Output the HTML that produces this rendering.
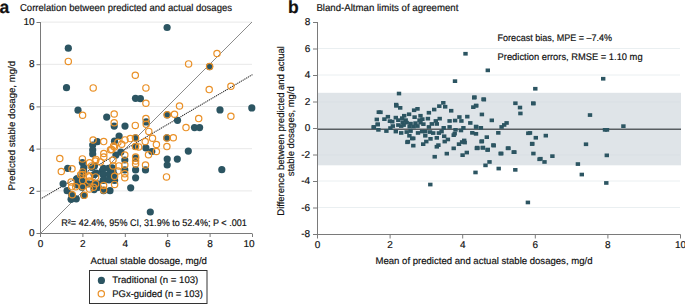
<!DOCTYPE html>
<html><head><meta charset="utf-8"><style>
html,body{margin:0;padding:0;background:#fff;}
svg{display:block;}
text{font-family:"Liberation Sans", sans-serif;fill:#111;stroke:#111;stroke-width:0.18px;}
</style></head><body>
<svg width="685" height="304" viewBox="0 0 685 304" text-rendering="geometricPrecision">
<line x1="41" y1="190.9" x2="252" y2="190.9" stroke="#e8e8e8" stroke-width="1"/>
<line x1="41" y1="148.7" x2="252" y2="148.7" stroke="#e8e8e8" stroke-width="1"/>
<line x1="41" y1="106.5" x2="252" y2="106.5" stroke="#e8e8e8" stroke-width="1"/>
<line x1="41" y1="64.3" x2="252" y2="64.3" stroke="#e8e8e8" stroke-width="1"/>
<line x1="41" y1="22.1" x2="252" y2="22.1" stroke="#e8e8e8" stroke-width="1"/>
<line x1="40.5" y1="233.5" x2="252" y2="22" stroke="#6e6e6e" stroke-width="0.8"/>
<line x1="40.5" y1="199" x2="252" y2="74.9" stroke="#333" stroke-width="1.15" stroke-dasharray="0.3 1.76" stroke-linecap="round"/>
<circle cx="68.3" cy="48.2" r="3.6" fill="#2c5562"/>
<circle cx="167.1" cy="27.5" r="3.6" fill="#2c5562"/>
<circle cx="209.6" cy="66.6" r="3.6" fill="#2c5562"/>
<circle cx="66.5" cy="87.7" r="3.6" fill="#2c5562"/>
<circle cx="78.0" cy="110.2" r="3.6" fill="#2c5562"/>
<circle cx="106.7" cy="117.1" r="3.6" fill="#2c5562"/>
<circle cx="135.5" cy="98.3" r="3.6" fill="#2c5562"/>
<circle cx="140.4" cy="98.7" r="3.6" fill="#2c5562"/>
<circle cx="167.2" cy="114.8" r="3.6" fill="#2c5562"/>
<circle cx="177.5" cy="120.3" r="3.6" fill="#2c5562"/>
<circle cx="220.0" cy="109.9" r="3.6" fill="#2c5562"/>
<circle cx="251.8" cy="107.9" r="3.6" fill="#2c5562"/>
<circle cx="146.2" cy="121.9" r="3.6" fill="#2c5562"/>
<circle cx="114.2" cy="126.1" r="3.6" fill="#2c5562"/>
<circle cx="125.0" cy="126.1" r="3.6" fill="#2c5562"/>
<circle cx="194.5" cy="127.6" r="3.6" fill="#2c5562"/>
<circle cx="199.6" cy="127.6" r="3.6" fill="#2c5562"/>
<circle cx="119.1" cy="136.0" r="3.6" fill="#2c5562"/>
<circle cx="114.5" cy="141.2" r="3.6" fill="#2c5562"/>
<circle cx="135.5" cy="137.9" r="3.6" fill="#2c5562"/>
<circle cx="166.9" cy="137.9" r="3.6" fill="#2c5562"/>
<circle cx="145.9" cy="147.9" r="3.6" fill="#2c5562"/>
<circle cx="135.5" cy="146.5" r="3.6" fill="#2c5562"/>
<circle cx="97.3" cy="141.7" r="3.6" fill="#2c5562"/>
<circle cx="92.7" cy="145.1" r="3.6" fill="#2c5562"/>
<circle cx="92.7" cy="150.0" r="3.6" fill="#2c5562"/>
<circle cx="188.3" cy="151.1" r="3.6" fill="#2c5562"/>
<circle cx="120.8" cy="152.1" r="3.6" fill="#2c5562"/>
<circle cx="115.9" cy="155.1" r="3.6" fill="#2c5562"/>
<circle cx="92.7" cy="154.0" r="3.6" fill="#2c5562"/>
<circle cx="67.7" cy="168.3" r="3.6" fill="#2c5562"/>
<circle cx="82.4" cy="162.6" r="3.6" fill="#2c5562"/>
<circle cx="83.6" cy="170.9" r="3.6" fill="#2c5562"/>
<circle cx="94.4" cy="165.9" r="3.6" fill="#2c5562"/>
<circle cx="76.7" cy="178.8" r="3.6" fill="#2c5562"/>
<circle cx="102.3" cy="170.9" r="3.6" fill="#2c5562"/>
<circle cx="112.2" cy="167.9" r="3.6" fill="#2c5562"/>
<circle cx="151.8" cy="151.5" r="3.6" fill="#2c5562"/>
<circle cx="135.6" cy="158.1" r="3.6" fill="#2c5562"/>
<circle cx="135.6" cy="169.9" r="3.6" fill="#2c5562"/>
<circle cx="135.6" cy="177.8" r="3.6" fill="#2c5562"/>
<circle cx="145.5" cy="169.9" r="3.6" fill="#2c5562"/>
<circle cx="124.8" cy="160.0" r="3.6" fill="#2c5562"/>
<circle cx="124.8" cy="169.9" r="3.6" fill="#2c5562"/>
<circle cx="113.0" cy="170.9" r="3.6" fill="#2c5562"/>
<circle cx="167.2" cy="159.0" r="3.6" fill="#2c5562"/>
<circle cx="167.2" cy="165.0" r="3.6" fill="#2c5562"/>
<circle cx="177.3" cy="159.1" r="3.6" fill="#2c5562"/>
<circle cx="221.8" cy="169.7" r="3.6" fill="#2c5562"/>
<circle cx="103.1" cy="174.6" r="3.6" fill="#2c5562"/>
<circle cx="103.1" cy="180.4" r="3.6" fill="#2c5562"/>
<circle cx="97.3" cy="183.8" r="3.6" fill="#2c5562"/>
<circle cx="103.6" cy="190.7" r="3.6" fill="#2c5562"/>
<circle cx="110.0" cy="190.7" r="3.6" fill="#2c5562"/>
<circle cx="114.6" cy="180.4" r="3.6" fill="#2c5562"/>
<circle cx="114.0" cy="174.6" r="3.6" fill="#2c5562"/>
<circle cx="130.7" cy="187.8" r="3.6" fill="#2c5562"/>
<circle cx="63.1" cy="183.8" r="3.6" fill="#2c5562"/>
<circle cx="67.1" cy="190.7" r="3.6" fill="#2c5562"/>
<circle cx="71.7" cy="194.7" r="3.6" fill="#2c5562"/>
<circle cx="71.1" cy="199.3" r="3.6" fill="#2c5562"/>
<circle cx="76.3" cy="198.8" r="3.6" fill="#2c5562"/>
<circle cx="76.9" cy="179.2" r="3.6" fill="#2c5562"/>
<circle cx="76.9" cy="185.0" r="3.6" fill="#2c5562"/>
<circle cx="82.0" cy="174.6" r="3.6" fill="#2c5562"/>
<circle cx="82.0" cy="180.9" r="3.6" fill="#2c5562"/>
<circle cx="82.0" cy="187.3" r="3.6" fill="#2c5562"/>
<circle cx="83.8" cy="195.3" r="3.6" fill="#2c5562"/>
<circle cx="88.4" cy="183.8" r="3.6" fill="#2c5562"/>
<circle cx="93.0" cy="183.8" r="3.6" fill="#2c5562"/>
<circle cx="94.1" cy="174.6" r="3.6" fill="#2c5562"/>
<circle cx="98.2" cy="187.3" r="3.6" fill="#2c5562"/>
<circle cx="94.1" cy="189.6" r="3.6" fill="#2c5562"/>
<circle cx="150.3" cy="212.0" r="3.6" fill="#2c5562"/>
<circle cx="103.5" cy="168.3" r="3.6" fill="#2c5562"/>
<circle cx="108.5" cy="168.3" r="3.6" fill="#2c5562"/>
<circle cx="109.0" cy="174.3" r="3.6" fill="#2c5562"/>
<circle cx="104.0" cy="179.8" r="3.6" fill="#2c5562"/>
<circle cx="109.0" cy="179.8" r="3.6" fill="#2c5562"/>
<circle cx="92.0" cy="167.3" r="3.6" fill="#2c5562"/>
<circle cx="83.8" cy="167.6" r="3.6" fill="#2c5562"/>
<circle cx="96.2" cy="173.0" r="3.6" fill="#2c5562"/>
<circle cx="68.3" cy="61.4" r="3.15" fill="none" stroke="#ea9128" stroke-width="1.2"/>
<circle cx="135.3" cy="75.2" r="3.15" fill="none" stroke="#ea9128" stroke-width="1.2"/>
<circle cx="217.0" cy="53.5" r="3.15" fill="none" stroke="#ea9128" stroke-width="1.2"/>
<circle cx="188.6" cy="63.9" r="3.15" fill="none" stroke="#ea9128" stroke-width="1.2"/>
<circle cx="209.6" cy="66.6" r="3.15" fill="none" stroke="#ea9128" stroke-width="1.2"/>
<circle cx="230.9" cy="86.2" r="3.15" fill="none" stroke="#ea9128" stroke-width="1.2"/>
<circle cx="209.2" cy="89.6" r="3.15" fill="none" stroke="#ea9128" stroke-width="1.2"/>
<circle cx="93.2" cy="87.9" r="3.15" fill="none" stroke="#ea9128" stroke-width="1.2"/>
<circle cx="82.6" cy="115.2" r="3.15" fill="none" stroke="#ea9128" stroke-width="1.2"/>
<circle cx="114.2" cy="114.0" r="3.15" fill="none" stroke="#ea9128" stroke-width="1.2"/>
<circle cx="145.9" cy="87.9" r="3.15" fill="none" stroke="#ea9128" stroke-width="1.2"/>
<circle cx="145.9" cy="103.3" r="3.15" fill="none" stroke="#ea9128" stroke-width="1.2"/>
<circle cx="179.5" cy="106.0" r="3.15" fill="none" stroke="#ea9128" stroke-width="1.2"/>
<circle cx="167.2" cy="114.8" r="3.15" fill="none" stroke="#ea9128" stroke-width="1.2"/>
<circle cx="174.5" cy="114.3" r="3.15" fill="none" stroke="#ea9128" stroke-width="1.2"/>
<circle cx="198.7" cy="118.6" r="3.15" fill="none" stroke="#ea9128" stroke-width="1.2"/>
<circle cx="230.9" cy="116.2" r="3.15" fill="none" stroke="#ea9128" stroke-width="1.2"/>
<circle cx="145.9" cy="118.6" r="3.15" fill="none" stroke="#ea9128" stroke-width="1.2"/>
<circle cx="146.2" cy="124.2" r="3.15" fill="none" stroke="#ea9128" stroke-width="1.2"/>
<circle cx="114.2" cy="122.8" r="3.15" fill="none" stroke="#ea9128" stroke-width="1.2"/>
<circle cx="135.3" cy="125.4" r="3.15" fill="none" stroke="#ea9128" stroke-width="1.2"/>
<circle cx="186.0" cy="127.6" r="3.15" fill="none" stroke="#ea9128" stroke-width="1.2"/>
<circle cx="148.8" cy="131.4" r="3.15" fill="none" stroke="#ea9128" stroke-width="1.2"/>
<circle cx="103.7" cy="141.6" r="3.15" fill="none" stroke="#ea9128" stroke-width="1.2"/>
<circle cx="125.0" cy="139.9" r="3.15" fill="none" stroke="#ea9128" stroke-width="1.2"/>
<circle cx="130.3" cy="138.6" r="3.15" fill="none" stroke="#ea9128" stroke-width="1.2"/>
<circle cx="135.5" cy="137.9" r="3.15" fill="none" stroke="#ea9128" stroke-width="1.2"/>
<circle cx="152.5" cy="138.3" r="3.15" fill="none" stroke="#ea9128" stroke-width="1.2"/>
<circle cx="145.2" cy="141.6" r="3.15" fill="none" stroke="#ea9128" stroke-width="1.2"/>
<circle cx="156.4" cy="144.5" r="3.15" fill="none" stroke="#ea9128" stroke-width="1.2"/>
<circle cx="166.9" cy="137.9" r="3.15" fill="none" stroke="#ea9128" stroke-width="1.2"/>
<circle cx="173.3" cy="137.7" r="3.15" fill="none" stroke="#ea9128" stroke-width="1.2"/>
<circle cx="166.9" cy="146.6" r="3.15" fill="none" stroke="#ea9128" stroke-width="1.2"/>
<circle cx="138.7" cy="146.9" r="3.15" fill="none" stroke="#ea9128" stroke-width="1.2"/>
<circle cx="135.5" cy="146.5" r="3.15" fill="none" stroke="#ea9128" stroke-width="1.2"/>
<circle cx="121.7" cy="144.3" r="3.15" fill="none" stroke="#ea9128" stroke-width="1.2"/>
<circle cx="114.5" cy="147.1" r="3.15" fill="none" stroke="#ea9128" stroke-width="1.2"/>
<circle cx="93.1" cy="140.0" r="3.15" fill="none" stroke="#ea9128" stroke-width="1.2"/>
<circle cx="113.6" cy="146.1" r="3.15" fill="none" stroke="#ea9128" stroke-width="1.2"/>
<circle cx="110.5" cy="149.8" r="3.15" fill="none" stroke="#ea9128" stroke-width="1.2"/>
<circle cx="117.9" cy="142.3" r="3.15" fill="none" stroke="#ea9128" stroke-width="1.2"/>
<circle cx="103.8" cy="153.5" r="3.15" fill="none" stroke="#ea9128" stroke-width="1.2"/>
<circle cx="103.8" cy="157.0" r="3.15" fill="none" stroke="#ea9128" stroke-width="1.2"/>
<circle cx="111.7" cy="149.5" r="3.15" fill="none" stroke="#ea9128" stroke-width="1.2"/>
<circle cx="95.9" cy="159.4" r="3.15" fill="none" stroke="#ea9128" stroke-width="1.2"/>
<circle cx="59.8" cy="158.5" r="3.15" fill="none" stroke="#ea9128" stroke-width="1.2"/>
<circle cx="72.0" cy="168.7" r="3.15" fill="none" stroke="#ea9128" stroke-width="1.2"/>
<circle cx="61.3" cy="171.5" r="3.15" fill="none" stroke="#ea9128" stroke-width="1.2"/>
<circle cx="82.4" cy="158.9" r="3.15" fill="none" stroke="#ea9128" stroke-width="1.2"/>
<circle cx="89.5" cy="162.8" r="3.15" fill="none" stroke="#ea9128" stroke-width="1.2"/>
<circle cx="95.4" cy="161.0" r="3.15" fill="none" stroke="#ea9128" stroke-width="1.2"/>
<circle cx="91.5" cy="165.9" r="3.15" fill="none" stroke="#ea9128" stroke-width="1.2"/>
<circle cx="100.4" cy="162.0" r="3.15" fill="none" stroke="#ea9128" stroke-width="1.2"/>
<circle cx="82.6" cy="171.9" r="3.15" fill="none" stroke="#ea9128" stroke-width="1.2"/>
<circle cx="80.6" cy="174.8" r="3.15" fill="none" stroke="#ea9128" stroke-width="1.2"/>
<circle cx="89.5" cy="176.8" r="3.15" fill="none" stroke="#ea9128" stroke-width="1.2"/>
<circle cx="156.4" cy="151.5" r="3.15" fill="none" stroke="#ea9128" stroke-width="1.2"/>
<circle cx="148.5" cy="154.8" r="3.15" fill="none" stroke="#ea9128" stroke-width="1.2"/>
<circle cx="135.6" cy="157.1" r="3.15" fill="none" stroke="#ea9128" stroke-width="1.2"/>
<circle cx="135.6" cy="161.0" r="3.15" fill="none" stroke="#ea9128" stroke-width="1.2"/>
<circle cx="135.6" cy="164.0" r="3.15" fill="none" stroke="#ea9128" stroke-width="1.2"/>
<circle cx="145.5" cy="165.0" r="3.15" fill="none" stroke="#ea9128" stroke-width="1.2"/>
<circle cx="124.8" cy="155.1" r="3.15" fill="none" stroke="#ea9128" stroke-width="1.2"/>
<circle cx="124.8" cy="165.0" r="3.15" fill="none" stroke="#ea9128" stroke-width="1.2"/>
<circle cx="124.8" cy="173.8" r="3.15" fill="none" stroke="#ea9128" stroke-width="1.2"/>
<circle cx="124.8" cy="177.8" r="3.15" fill="none" stroke="#ea9128" stroke-width="1.2"/>
<circle cx="113.0" cy="160.0" r="3.15" fill="none" stroke="#ea9128" stroke-width="1.2"/>
<circle cx="113.0" cy="165.9" r="3.15" fill="none" stroke="#ea9128" stroke-width="1.2"/>
<circle cx="118.9" cy="165.9" r="3.15" fill="none" stroke="#ea9128" stroke-width="1.2"/>
<circle cx="117.9" cy="170.9" r="3.15" fill="none" stroke="#ea9128" stroke-width="1.2"/>
<circle cx="166.5" cy="176.9" r="3.15" fill="none" stroke="#ea9128" stroke-width="1.2"/>
<circle cx="103.6" cy="185.5" r="3.15" fill="none" stroke="#ea9128" stroke-width="1.2"/>
<circle cx="103.6" cy="190.1" r="3.15" fill="none" stroke="#ea9128" stroke-width="1.2"/>
<circle cx="114.6" cy="176.3" r="3.15" fill="none" stroke="#ea9128" stroke-width="1.2"/>
<circle cx="114.6" cy="184.4" r="3.15" fill="none" stroke="#ea9128" stroke-width="1.2"/>
<circle cx="95.6" cy="176.9" r="3.15" fill="none" stroke="#ea9128" stroke-width="1.2"/>
<circle cx="95.6" cy="183.8" r="3.15" fill="none" stroke="#ea9128" stroke-width="1.2"/>
<circle cx="71.1" cy="182.1" r="3.15" fill="none" stroke="#ea9128" stroke-width="1.2"/>
<circle cx="71.7" cy="186.7" r="3.15" fill="none" stroke="#ea9128" stroke-width="1.2"/>
<circle cx="72.3" cy="194.7" r="3.15" fill="none" stroke="#ea9128" stroke-width="1.2"/>
<circle cx="75.7" cy="186.7" r="3.15" fill="none" stroke="#ea9128" stroke-width="1.2"/>
<circle cx="82.6" cy="174.6" r="3.15" fill="none" stroke="#ea9128" stroke-width="1.2"/>
<circle cx="82.6" cy="180.4" r="3.15" fill="none" stroke="#ea9128" stroke-width="1.2"/>
<circle cx="82.6" cy="186.7" r="3.15" fill="none" stroke="#ea9128" stroke-width="1.2"/>
<circle cx="84.3" cy="195.3" r="3.15" fill="none" stroke="#ea9128" stroke-width="1.2"/>
<circle cx="89.0" cy="175.8" r="3.15" fill="none" stroke="#ea9128" stroke-width="1.2"/>
<circle cx="89.5" cy="180.9" r="3.15" fill="none" stroke="#ea9128" stroke-width="1.2"/>
<circle cx="89.5" cy="189.0" r="3.15" fill="none" stroke="#ea9128" stroke-width="1.2"/>
<circle cx="93.5" cy="187.3" r="3.15" fill="none" stroke="#ea9128" stroke-width="1.2"/>
<line x1="40.5" y1="22" x2="40.5" y2="237" stroke="#7a7a7a" stroke-width="1"/>
<line x1="36.5" y1="233.5" x2="252" y2="233.5" stroke="#7a7a7a" stroke-width="1"/>
<line x1="36.5" y1="191.3" x2="40.5" y2="191.3" stroke="#7a7a7a" stroke-width="1"/>
<line x1="36.5" y1="149.1" x2="40.5" y2="149.1" stroke="#7a7a7a" stroke-width="1"/>
<line x1="36.5" y1="106.9" x2="40.5" y2="106.9" stroke="#7a7a7a" stroke-width="1"/>
<line x1="36.5" y1="64.7" x2="40.5" y2="64.7" stroke="#7a7a7a" stroke-width="1"/>
<line x1="36.5" y1="22.5" x2="40.5" y2="22.5" stroke="#7a7a7a" stroke-width="1"/>
<line x1="82.9" y1="233.5" x2="82.9" y2="237" stroke="#7a7a7a" stroke-width="1"/>
<line x1="125.3" y1="233.5" x2="125.3" y2="237" stroke="#7a7a7a" stroke-width="1"/>
<line x1="167.7" y1="233.5" x2="167.7" y2="237" stroke="#7a7a7a" stroke-width="1"/>
<line x1="210.1" y1="233.5" x2="210.1" y2="237" stroke="#7a7a7a" stroke-width="1"/>
<line x1="252.5" y1="233.5" x2="252.5" y2="237" stroke="#7a7a7a" stroke-width="1"/>
<text x="34.6" y="236.1" font-size="10" text-anchor="end">0</text>
<text x="34.6" y="193.9" font-size="10" text-anchor="end">2</text>
<text x="34.6" y="151.7" font-size="10" text-anchor="end">4</text>
<text x="34.6" y="109.5" font-size="10" text-anchor="end">6</text>
<text x="34.6" y="67.3" font-size="10" text-anchor="end">8</text>
<text x="34.6" y="25.1" font-size="10" text-anchor="end">10</text>
<text x="40.5" y="247.3" font-size="10" text-anchor="middle">0</text>
<text x="82.9" y="247.3" font-size="10" text-anchor="middle">2</text>
<text x="125.3" y="247.3" font-size="10" text-anchor="middle">4</text>
<text x="167.7" y="247.3" font-size="10" text-anchor="middle">6</text>
<text x="210.1" y="247.3" font-size="10" text-anchor="middle">8</text>
<text x="249.1" y="247.3" font-size="10" text-anchor="middle">10</text>
<rect x="318" y="92.8" width="363" height="72.5" fill="#dfe4e8"/>
<line x1="318" y1="48.5" x2="680" y2="48.5" stroke="#eaeff1" stroke-width="1"/>
<line x1="318" y1="75.0" x2="680" y2="75.0" stroke="#eaeff1" stroke-width="1"/>
<line x1="318" y1="181.0" x2="680" y2="181.0" stroke="#eaeff1" stroke-width="1"/>
<line x1="318" y1="207.5" x2="680" y2="207.5" stroke="#eaeff1" stroke-width="1"/>
<line x1="318" y1="102.0" x2="680" y2="102.0" stroke="#d6dde2" stroke-width="1" opacity="0.5"/>
<line x1="318" y1="155.0" x2="680" y2="155.0" stroke="#d6dde2" stroke-width="1" opacity="0.5"/>
<line x1="318" y1="129.2" x2="681" y2="129.2" stroke="#595e62" stroke-width="1.4"/>
<rect x="396.8" y="91.7" width="4.4" height="3.7" fill="#2c5562"/>
<rect x="394.0" y="102.8" width="4.4" height="3.7" fill="#2c5562"/>
<rect x="376.6" y="110.3" width="4.4" height="3.7" fill="#2c5562"/>
<rect x="374.6" y="117.6" width="4.4" height="3.7" fill="#2c5562"/>
<rect x="371.7" y="125.1" width="4.4" height="3.7" fill="#2c5562"/>
<rect x="375.6" y="122.7" width="4.4" height="3.7" fill="#2c5562"/>
<rect x="376.2" y="128.0" width="4.4" height="3.7" fill="#2c5562"/>
<rect x="407.2" y="133.9" width="4.4" height="3.7" fill="#2c5562"/>
<rect x="411.1" y="136.5" width="4.4" height="3.7" fill="#2c5562"/>
<rect x="405.2" y="140.4" width="4.4" height="3.7" fill="#2c5562"/>
<rect x="411.1" y="143.8" width="4.4" height="3.7" fill="#2c5562"/>
<rect x="472.0" y="95.9" width="4.4" height="3.7" fill="#2c5562"/>
<rect x="441.1" y="101.0" width="4.4" height="3.7" fill="#2c5562"/>
<rect x="437.1" y="104.3" width="4.4" height="3.7" fill="#2c5562"/>
<rect x="443.0" y="104.9" width="4.4" height="3.7" fill="#2c5562"/>
<rect x="432.0" y="107.7" width="4.4" height="3.7" fill="#2c5562"/>
<rect x="449.0" y="108.9" width="4.4" height="3.7" fill="#2c5562"/>
<rect x="426.7" y="110.9" width="4.4" height="3.7" fill="#2c5562"/>
<rect x="425.7" y="116.8" width="4.4" height="3.7" fill="#2c5562"/>
<rect x="437.5" y="116.8" width="4.4" height="3.7" fill="#2c5562"/>
<rect x="433.6" y="119.1" width="4.4" height="3.7" fill="#2c5562"/>
<rect x="429.6" y="122.1" width="4.4" height="3.7" fill="#2c5562"/>
<rect x="434.6" y="122.1" width="4.4" height="3.7" fill="#2c5562"/>
<rect x="447.4" y="119.1" width="4.4" height="3.7" fill="#2c5562"/>
<rect x="452.9" y="118.7" width="4.4" height="3.7" fill="#2c5562"/>
<rect x="457.2" y="115.2" width="4.4" height="3.7" fill="#2c5562"/>
<rect x="459.2" y="119.1" width="4.4" height="3.7" fill="#2c5562"/>
<rect x="465.1" y="114.8" width="4.4" height="3.7" fill="#2c5562"/>
<rect x="468.1" y="121.1" width="4.4" height="3.7" fill="#2c5562"/>
<rect x="471.1" y="105.3" width="4.4" height="3.7" fill="#2c5562"/>
<rect x="474.0" y="103.8" width="4.4" height="3.7" fill="#2c5562"/>
<rect x="426.7" y="125.1" width="4.4" height="3.7" fill="#2c5562"/>
<rect x="441.5" y="126.0" width="4.4" height="3.7" fill="#2c5562"/>
<rect x="447.4" y="125.1" width="4.4" height="3.7" fill="#2c5562"/>
<rect x="453.3" y="128.0" width="4.4" height="3.7" fill="#2c5562"/>
<rect x="461.2" y="126.0" width="4.4" height="3.7" fill="#2c5562"/>
<rect x="474.0" y="125.1" width="4.4" height="3.7" fill="#2c5562"/>
<rect x="470.1" y="131.0" width="4.4" height="3.7" fill="#2c5562"/>
<rect x="475.0" y="145.8" width="4.4" height="3.7" fill="#2c5562"/>
<rect x="481.7" y="97.8" width="4.4" height="3.7" fill="#2c5562"/>
<rect x="473.8" y="103.8" width="4.4" height="3.7" fill="#2c5562"/>
<rect x="479.7" y="112.6" width="4.4" height="3.7" fill="#2c5562"/>
<rect x="489.6" y="118.5" width="4.4" height="3.7" fill="#2c5562"/>
<rect x="473.8" y="124.7" width="4.4" height="3.7" fill="#2c5562"/>
<rect x="478.7" y="126.0" width="4.4" height="3.7" fill="#2c5562"/>
<rect x="499.4" y="125.1" width="4.4" height="3.7" fill="#2c5562"/>
<rect x="502.0" y="123.1" width="4.4" height="3.7" fill="#2c5562"/>
<rect x="504.4" y="121.1" width="4.4" height="3.7" fill="#2c5562"/>
<rect x="496.1" y="131.0" width="4.4" height="3.7" fill="#2c5562"/>
<rect x="513.2" y="101.4" width="4.4" height="3.7" fill="#2c5562"/>
<rect x="517.8" y="105.7" width="4.4" height="3.7" fill="#2c5562"/>
<rect x="518.2" y="111.6" width="4.4" height="3.7" fill="#2c5562"/>
<rect x="531.0" y="101.4" width="4.4" height="3.7" fill="#2c5562"/>
<rect x="484.6" y="135.3" width="4.4" height="3.7" fill="#2c5562"/>
<rect x="479.7" y="139.3" width="4.4" height="3.7" fill="#2c5562"/>
<rect x="473.8" y="132.0" width="4.4" height="3.7" fill="#2c5562"/>
<rect x="526.1" y="131.4" width="4.4" height="3.7" fill="#2c5562"/>
<rect x="491.5" y="143.8" width="4.4" height="3.7" fill="#2c5562"/>
<rect x="480.7" y="145.8" width="4.4" height="3.7" fill="#2c5562"/>
<rect x="475.2" y="146.4" width="4.4" height="3.7" fill="#2c5562"/>
<rect x="485.6" y="147.7" width="4.4" height="3.7" fill="#2c5562"/>
<rect x="506.3" y="146.4" width="4.4" height="3.7" fill="#2c5562"/>
<rect x="512.2" y="150.3" width="4.4" height="3.7" fill="#2c5562"/>
<rect x="498.4" y="151.7" width="4.4" height="3.7" fill="#2c5562"/>
<rect x="530.0" y="141.8" width="4.4" height="3.7" fill="#2c5562"/>
<rect x="533.1" y="86.9" width="4.4" height="3.7" fill="#2c5562"/>
<rect x="531.2" y="101.7" width="4.4" height="3.7" fill="#2c5562"/>
<rect x="587.8" y="113.2" width="4.4" height="3.7" fill="#2c5562"/>
<rect x="527.8" y="131.1" width="4.4" height="3.7" fill="#2c5562"/>
<rect x="533.6" y="135.9" width="4.4" height="3.7" fill="#2c5562"/>
<rect x="543.6" y="133.8" width="4.4" height="3.7" fill="#2c5562"/>
<rect x="529.9" y="142.2" width="4.4" height="3.7" fill="#2c5562"/>
<rect x="583.8" y="142.4" width="4.4" height="3.7" fill="#2c5562"/>
<rect x="602.8" y="128.0" width="4.4" height="3.7" fill="#2c5562"/>
<rect x="604.8" y="128.0" width="4.4" height="3.7" fill="#2c5562"/>
<rect x="531.2" y="151.7" width="4.4" height="3.7" fill="#2c5562"/>
<rect x="538.3" y="156.9" width="4.4" height="3.7" fill="#2c5562"/>
<rect x="550.2" y="154.3" width="4.4" height="3.7" fill="#2c5562"/>
<rect x="604.6" y="153.5" width="4.4" height="3.7" fill="#2c5562"/>
<rect x="463.3" y="51.9" width="4.4" height="3.7" fill="#2c5562"/>
<rect x="485.6" y="68.5" width="4.4" height="3.7" fill="#2c5562"/>
<rect x="452.8" y="79.3" width="4.4" height="3.7" fill="#2c5562"/>
<rect x="472.2" y="95.3" width="4.4" height="3.7" fill="#2c5562"/>
<rect x="481.4" y="97.3" width="4.4" height="3.7" fill="#2c5562"/>
<rect x="601.0" y="76.9" width="4.4" height="3.7" fill="#2c5562"/>
<rect x="621.2" y="124.3" width="4.4" height="3.7" fill="#2c5562"/>
<rect x="542.3" y="160.1" width="4.4" height="3.7" fill="#2c5562"/>
<rect x="575.7" y="162.2" width="4.4" height="3.7" fill="#2c5562"/>
<rect x="579.6" y="172.7" width="4.4" height="3.7" fill="#2c5562"/>
<rect x="604.1" y="181.1" width="4.4" height="3.7" fill="#2c5562"/>
<rect x="405.7" y="139.8" width="4.4" height="3.7" fill="#2c5562"/>
<rect x="474.6" y="146.4" width="4.4" height="3.7" fill="#2c5562"/>
<rect x="479.4" y="139.8" width="4.4" height="3.7" fill="#2c5562"/>
<rect x="480.7" y="145.9" width="4.4" height="3.7" fill="#2c5562"/>
<rect x="485.4" y="148.2" width="4.4" height="3.7" fill="#2c5562"/>
<rect x="491.2" y="143.2" width="4.4" height="3.7" fill="#2c5562"/>
<rect x="499.1" y="151.7" width="4.4" height="3.7" fill="#2c5562"/>
<rect x="505.7" y="146.4" width="4.4" height="3.7" fill="#2c5562"/>
<rect x="511.5" y="150.3" width="4.4" height="3.7" fill="#2c5562"/>
<rect x="537.3" y="157.4" width="4.4" height="3.7" fill="#2c5562"/>
<rect x="473.3" y="170.6" width="4.4" height="3.7" fill="#2c5562"/>
<rect x="483.3" y="163.5" width="4.4" height="3.7" fill="#2c5562"/>
<rect x="487.3" y="160.1" width="4.4" height="3.7" fill="#2c5562"/>
<rect x="496.5" y="166.7" width="4.4" height="3.7" fill="#2c5562"/>
<rect x="513.1" y="168.0" width="4.4" height="3.7" fill="#2c5562"/>
<rect x="428.1" y="182.7" width="4.4" height="3.7" fill="#2c5562"/>
<rect x="525.7" y="200.6" width="4.4" height="3.7" fill="#2c5562"/>
<rect x="371.5" y="125.4" width="4.4" height="3.7" fill="#2c5562"/>
<rect x="375.5" y="122.4" width="4.4" height="3.7" fill="#2c5562"/>
<rect x="410.0" y="136.6" width="4.4" height="3.7" fill="#2c5562"/>
<rect x="394.1" y="104.0" width="4.4" height="3.7" fill="#2c5562"/>
<rect x="398.0" y="106.0" width="4.4" height="3.7" fill="#2c5562"/>
<rect x="378.3" y="110.4" width="4.4" height="3.7" fill="#2c5562"/>
<rect x="411.9" y="108.4" width="4.4" height="3.7" fill="#2c5562"/>
<rect x="415.3" y="107.0" width="4.4" height="3.7" fill="#2c5562"/>
<rect x="385.7" y="114.9" width="4.4" height="3.7" fill="#2c5562"/>
<rect x="382.2" y="117.3" width="4.4" height="3.7" fill="#2c5562"/>
<rect x="393.6" y="115.8" width="4.4" height="3.7" fill="#2c5562"/>
<rect x="402.0" y="113.9" width="4.4" height="3.7" fill="#2c5562"/>
<rect x="406.9" y="112.4" width="4.4" height="3.7" fill="#2c5562"/>
<rect x="412.4" y="115.3" width="4.4" height="3.7" fill="#2c5562"/>
<rect x="418.3" y="113.9" width="4.4" height="3.7" fill="#2c5562"/>
<rect x="387.7" y="119.3" width="4.4" height="3.7" fill="#2c5562"/>
<rect x="390.1" y="119.8" width="4.4" height="3.7" fill="#2c5562"/>
<rect x="396.1" y="118.3" width="4.4" height="3.7" fill="#2c5562"/>
<rect x="400.0" y="116.3" width="4.4" height="3.7" fill="#2c5562"/>
<rect x="403.5" y="118.3" width="4.4" height="3.7" fill="#2c5562"/>
<rect x="400.5" y="120.3" width="4.4" height="3.7" fill="#2c5562"/>
<rect x="404.5" y="120.8" width="4.4" height="3.7" fill="#2c5562"/>
<rect x="408.4" y="121.8" width="4.4" height="3.7" fill="#2c5562"/>
<rect x="413.3" y="121.3" width="4.4" height="3.7" fill="#2c5562"/>
<rect x="417.3" y="118.3" width="4.4" height="3.7" fill="#2c5562"/>
<rect x="420.2" y="117.3" width="4.4" height="3.7" fill="#2c5562"/>
<rect x="418.3" y="120.8" width="4.4" height="3.7" fill="#2c5562"/>
<rect x="390.6" y="124.2" width="4.4" height="3.7" fill="#2c5562"/>
<rect x="396.1" y="123.2" width="4.4" height="3.7" fill="#2c5562"/>
<rect x="399.0" y="124.2" width="4.4" height="3.7" fill="#2c5562"/>
<rect x="401.5" y="123.2" width="4.4" height="3.7" fill="#2c5562"/>
<rect x="407.4" y="124.7" width="4.4" height="3.7" fill="#2c5562"/>
<rect x="411.4" y="124.7" width="4.4" height="3.7" fill="#2c5562"/>
<rect x="415.3" y="124.2" width="4.4" height="3.7" fill="#2c5562"/>
<rect x="421.2" y="122.3" width="4.4" height="3.7" fill="#2c5562"/>
<rect x="388.2" y="126.2" width="4.4" height="3.7" fill="#2c5562"/>
<rect x="384.2" y="129.2" width="4.4" height="3.7" fill="#2c5562"/>
<rect x="393.6" y="129.7" width="4.4" height="3.7" fill="#2c5562"/>
<rect x="399.0" y="131.1" width="4.4" height="3.7" fill="#2c5562"/>
<rect x="404.5" y="130.2" width="4.4" height="3.7" fill="#2c5562"/>
<rect x="408.4" y="129.2" width="4.4" height="3.7" fill="#2c5562"/>
<rect x="415.8" y="131.1" width="4.4" height="3.7" fill="#2c5562"/>
<rect x="419.9" y="129.7" width="4.4" height="3.7" fill="#2c5562"/>
<rect x="423.1" y="129.7" width="4.4" height="3.7" fill="#2c5562"/>
<rect x="427.8" y="130.2" width="4.4" height="3.7" fill="#2c5562"/>
<rect x="431.0" y="131.2" width="4.4" height="3.7" fill="#2c5562"/>
<rect x="436.7" y="131.2" width="4.4" height="3.7" fill="#2c5562"/>
<rect x="439.4" y="129.7" width="4.4" height="3.7" fill="#2c5562"/>
<rect x="458.8" y="128.6" width="4.4" height="3.7" fill="#2c5562"/>
<rect x="423.1" y="133.9" width="4.4" height="3.7" fill="#2c5562"/>
<rect x="428.3" y="137.0" width="4.4" height="3.7" fill="#2c5562"/>
<rect x="434.6" y="136.0" width="4.4" height="3.7" fill="#2c5562"/>
<rect x="442.0" y="134.4" width="4.4" height="3.7" fill="#2c5562"/>
<rect x="445.7" y="137.6" width="4.4" height="3.7" fill="#2c5562"/>
<rect x="442.5" y="139.7" width="4.4" height="3.7" fill="#2c5562"/>
<rect x="451.5" y="133.3" width="4.4" height="3.7" fill="#2c5562"/>
<rect x="452.5" y="131.8" width="4.4" height="3.7" fill="#2c5562"/>
<rect x="424.1" y="139.7" width="4.4" height="3.7" fill="#2c5562"/>
<rect x="421.0" y="142.3" width="4.4" height="3.7" fill="#2c5562"/>
<rect x="436.2" y="143.3" width="4.4" height="3.7" fill="#2c5562"/>
<rect x="434.6" y="144.9" width="4.4" height="3.7" fill="#2c5562"/>
<rect x="451.5" y="146.5" width="4.4" height="3.7" fill="#2c5562"/>
<rect x="456.8" y="142.3" width="4.4" height="3.7" fill="#2c5562"/>
<rect x="459.9" y="140.2" width="4.4" height="3.7" fill="#2c5562"/>
<rect x="462.0" y="138.6" width="4.4" height="3.7" fill="#2c5562"/>
<rect x="462.5" y="140.7" width="4.4" height="3.7" fill="#2c5562"/>
<rect x="444.6" y="151.8" width="4.4" height="3.7" fill="#2c5562"/>
<rect x="432.5" y="154.9" width="4.4" height="3.7" fill="#2c5562"/>
<rect x="460.4" y="153.3" width="4.4" height="3.7" fill="#2c5562"/>
<rect x="464.6" y="150.7" width="4.4" height="3.7" fill="#2c5562"/>
<line x1="317.5" y1="22" x2="317.5" y2="238" stroke="#7a7a7a" stroke-width="1"/>
<line x1="313" y1="234.5" x2="680.5" y2="234.5" stroke="#7a7a7a" stroke-width="1"/>
<line x1="313" y1="22.5" x2="317.5" y2="22.5" stroke="#7a7a7a" stroke-width="1"/>
<text x="310.2" y="25.3" font-size="10" text-anchor="end">8</text>
<line x1="313" y1="49.0" x2="317.5" y2="49.0" stroke="#7a7a7a" stroke-width="1"/>
<text x="310.2" y="51.8" font-size="10" text-anchor="end">6</text>
<line x1="313" y1="75.5" x2="317.5" y2="75.5" stroke="#7a7a7a" stroke-width="1"/>
<text x="310.2" y="78.3" font-size="10" text-anchor="end">4</text>
<line x1="313" y1="102.0" x2="317.5" y2="102.0" stroke="#7a7a7a" stroke-width="1"/>
<text x="310.2" y="104.8" font-size="10" text-anchor="end">2</text>
<line x1="313" y1="128.5" x2="317.5" y2="128.5" stroke="#7a7a7a" stroke-width="1"/>
<text x="310.2" y="131.3" font-size="10" text-anchor="end">0</text>
<line x1="313" y1="155.0" x2="317.5" y2="155.0" stroke="#7a7a7a" stroke-width="1"/>
<text x="310.2" y="157.8" font-size="10" text-anchor="end">-2</text>
<line x1="313" y1="181.5" x2="317.5" y2="181.5" stroke="#7a7a7a" stroke-width="1"/>
<text x="310.2" y="184.3" font-size="10" text-anchor="end">-4</text>
<line x1="313" y1="208.0" x2="317.5" y2="208.0" stroke="#7a7a7a" stroke-width="1"/>
<text x="310.2" y="210.8" font-size="10" text-anchor="end">-6</text>
<line x1="313" y1="234.5" x2="317.5" y2="234.5" stroke="#7a7a7a" stroke-width="1"/>
<text x="310.2" y="237.3" font-size="10" text-anchor="end">-8</text>
<line x1="317.5" y1="234.5" x2="317.5" y2="238.5" stroke="#7a7a7a" stroke-width="1"/>
<text x="317.5" y="248" font-size="10" text-anchor="middle">0</text>
<line x1="390.1" y1="234.5" x2="390.1" y2="238.5" stroke="#7a7a7a" stroke-width="1"/>
<text x="390.1" y="248" font-size="10" text-anchor="middle">2</text>
<line x1="462.7" y1="234.5" x2="462.7" y2="238.5" stroke="#7a7a7a" stroke-width="1"/>
<text x="462.7" y="248" font-size="10" text-anchor="middle">4</text>
<line x1="535.3" y1="234.5" x2="535.3" y2="238.5" stroke="#7a7a7a" stroke-width="1"/>
<text x="535.3" y="248" font-size="10" text-anchor="middle">6</text>
<line x1="607.9" y1="234.5" x2="607.9" y2="238.5" stroke="#7a7a7a" stroke-width="1"/>
<text x="607.9" y="248" font-size="10" text-anchor="middle">8</text>
<line x1="680.5" y1="234.5" x2="680.5" y2="238.5" stroke="#7a7a7a" stroke-width="1"/>
<text x="680.5" y="248" font-size="10" text-anchor="middle">10</text>
<text x="-0.6" y="13.1" font-size="17.5" font-weight="bold">a</text>
<text x="288" y="13.1" font-size="17.5" font-weight="bold">b</text>
<text x="20" y="10.8" font-size="10" textLength="212" lengthAdjust="spacingAndGlyphs">Correlation between predicted and actual dosages</text>
<text x="316.4" y="10.9" font-size="10" textLength="142" lengthAdjust="spacingAndGlyphs">Bland-Altman limits of agreement</text>
<text x="90.5" y="263.8" font-size="9.6" textLength="116.5" lengthAdjust="spacingAndGlyphs">Actual stable dosage, mg/d</text>
<text x="375.5" y="263.5" font-size="9.6" textLength="217" lengthAdjust="spacingAndGlyphs">Mean of predicted and actual stable dosages, mg/d</text>
<text x="61.3" y="225.7" font-size="9.6" textLength="185.5" lengthAdjust="spacingAndGlyphs">R²= 42.4%, 95% CI, 31.9% to 52.4%; P &lt; .001</text>
<text x="497.6" y="40.8" font-size="9.6" textLength="114.5" lengthAdjust="spacingAndGlyphs">Forecast bias, MPE = –7.4%</text>
<text x="497.6" y="59.6" font-size="9.6" textLength="145" lengthAdjust="spacingAndGlyphs">Prediction errors, RMSE = 1.10 mg</text>
<text transform="translate(14.8,190.5) rotate(-90)" font-size="9.6" textLength="129.5" lengthAdjust="spacingAndGlyphs">Predicted stable dosage, mg/d</text>
<text transform="translate(283.6,215.7) rotate(-90)" font-size="9.6" textLength="169.5" lengthAdjust="spacingAndGlyphs">Difference between predicted and actual</text>
<text transform="translate(293.8,176.3) rotate(-90)" font-size="9.6" textLength="90" lengthAdjust="spacingAndGlyphs">stable dosages, mg/d</text>
<rect x="89.5" y="270.5" width="117.5" height="33" fill="#fff" stroke="#333" stroke-width="1"/>
<circle cx="101.4" cy="280.4" r="3.6" fill="#2c5562"/>
<circle cx="101.3" cy="293.8" r="3.15" fill="none" stroke="#ea9128" stroke-width="1.2"/>
<text x="112.3" y="283" font-size="9.6" textLength="86" lengthAdjust="spacingAndGlyphs">Traditional (n = 103)</text>
<text x="112.3" y="297" font-size="9.6" textLength="90.5" lengthAdjust="spacingAndGlyphs">PGx-guided (n = 103)</text>
</svg>
</body></html>
